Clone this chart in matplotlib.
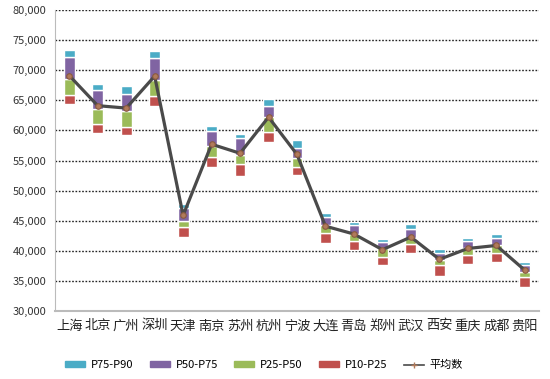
import numpy as np
import matplotlib
matplotlib.use("Agg")
import matplotlib.pyplot as plt
from matplotlib.patches import Patch
from matplotlib.lines import Line2D

plt.rcParams['font.family'] = ['Noto Sans CJK SC', 'DejaVu Sans']

cities = ["上海", "北京", "广州", "深圳", "天津", "南京", "苏州", "杭州", "宁波",
          "大连", "青岛", "郑州", "武汉", "西安", "重庆", "成都", "贵阳"]
p10 = [64400, 59500, 59200, 64100, 42300, 54000, 52500, 58100, 52600,
       41300, 40100, 37600, 39700, 35900, 37800, 38200, 34000]
p25 = [65900, 61100, 60500, 65700, 43900, 55600, 54500, 59700, 54000,
       43000, 41700, 39000, 41200, 37600, 39300, 39700, 35700]
p50 = [68500, 63500, 63200, 68400, 44900, 57400, 55900, 62300, 55400,
       44300, 42800, 40400, 42200, 38500, 40400, 41000, 36500]
p75 = [72200, 66700, 66000, 72000, 47100, 59900, 58700, 64100, 57000,
       45700, 44300, 41500, 43700, 39600, 41700, 42200, 37700]
p90 = [73300, 67700, 67300, 73100, 47800, 60700, 59400, 65200, 58400,
       46300, 44800, 42000, 44500, 40300, 42200, 42800, 38200]
avg = [69100, 64100, 63700, 69000, 45900, 57700, 56200, 62200, 56000,
       44100, 42800, 40200, 42300, 38600, 40400, 40900, 36800]

yticks = [30000, 35000, 40000, 45000, 50000, 55000, 60000, 65000, 70000, 75000, 80000]

c_red = "#C0504D"
c_green = "#9BBB59"
c_purple = "#8064A2"
c_cyan = "#4BACC6"

p10 = np.array(p10); p25 = np.array(p25); p50 = np.array(p50)
p75 = np.array(p75); p90 = np.array(p90)
x = np.arange(len(cities))

fig = plt.figure(figsize=(5.5, 3.79), dpi=100)
ax = fig.add_axes([0.1, 0.179, 0.88, 0.795])

w = 0.38
kw = dict(width=w, edgecolor="white", linewidth=1.0, zorder=3)
ax.bar(x, p25 - p10, bottom=p10, color=c_red, **kw)
ax.bar(x, p50 - p25, bottom=p25, color=c_green, **kw)
ax.bar(x, p75 - p50, bottom=p50, color=c_purple, **kw)
ax.bar(x, p90 - p75, bottom=p75, color=c_cyan, **kw)

ax.plot(x, avg, color="#4a4a4a", lw=2.3, zorder=4,
        marker="o", ms=4, mfc="#b07a5a", mec="#8a5a40", mew=0.8)

ax.set_ylim(30000, 80000)
ax.set_yticks(yticks)
ax.set_yticklabels([f"{v:,}" for v in yticks], fontsize=8, color="#333333")
ax.set_xlim(-0.5, len(cities) - 0.5)
ax.set_xticks(x)
ax.set_xticklabels(cities, fontsize=9.5, color="#222222")
ax.tick_params(length=0, pad=6)

for v in yticks[1:]:
    ax.axhline(v, color="#222222", lw=1.0, ls=(0, (1.2, 1.2)), zorder=1)

for s in ["top", "right"]:
    ax.spines[s].set_visible(False)
ax.spines["left"].set_color("#bbbbbb")
ax.spines["bottom"].set_color("#bbbbbb")
ax.spines["bottom"].set_linewidth(1.5)

handles = [Patch(color=c_cyan), Patch(color=c_purple), Patch(color=c_green), Patch(color=c_red),
           Line2D([0], [0], color="#4a4a4a", lw=1.2, marker="+", ms=5, mec="#b07a5a")]
labels = ["P75-P90", "P50-P75", "P25-P50", "P10-P25", "平均数"]
fig.legend(handles, labels, loc="center", bbox_to_anchor=(0.48, 0.037), ncol=5,
           frameon=False, fontsize=8, handlelength=1.8, handleheight=0.45,
           columnspacing=1.5, handletextpad=0.5)

fig.savefig("out.png", dpi=100)
